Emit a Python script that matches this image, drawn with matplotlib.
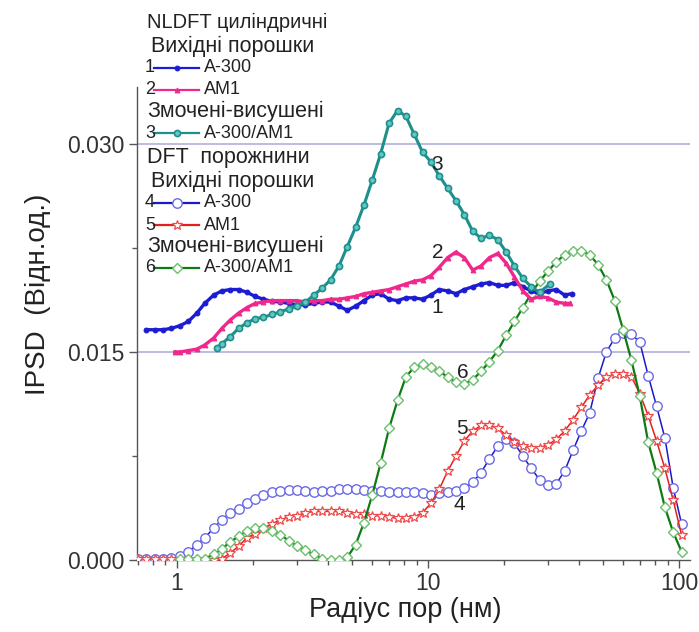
import matplotlib
matplotlib.use("Agg")
import matplotlib.pyplot as plt
from matplotlib.lines import Line2D
from matplotlib.ticker import LogLocator, FixedLocator, NullFormatter, FuncFormatter

plt.rcParams['font.family'] = ['Liberation Sans', 'DejaVu Sans']

# ---- NLDFT (cylindrical pores) ----
r_nldft_a300 = [0.755, 0.815, 0.88, 0.95, 1.03, 1.11, 1.20, 1.29, 1.40, 1.51, 1.63, 1.76,
                1.90, 2.05, 2.21, 2.39, 2.58, 2.79, 3.01, 3.25, 3.51, 3.79, 4.09, 4.42,
                4.77, 5.15, 5.56, 6.00, 6.48, 7.00, 7.56, 8.16, 8.81, 9.51, 10.27, 11.09,
                11.97, 12.93, 13.96, 15.07, 16.27, 17.57, 18.97, 20.48, 22.11, 23.87,
                25.77, 27.82, 30.04, 32.43, 35.01, 37.3]
psd_nldft_a300 = [0.0166, 0.0166, 0.0166, 0.0167, 0.0169, 0.0172, 0.0178, 0.0185, 0.0191,
                  0.0194, 0.0195, 0.0195, 0.0193, 0.0190, 0.0188, 0.01865, 0.0186, 0.0185,
                  0.0184, 0.0184, 0.0185, 0.0186, 0.0186, 0.0183, 0.0180, 0.0183, 0.0187,
                  0.0191, 0.0192, 0.0188, 0.0187, 0.0189, 0.0189, 0.0188, 0.0191, 0.0195,
                  0.0194, 0.0192, 0.0195, 0.0197, 0.0199, 0.0200, 0.0198, 0.0198, 0.0200,
                  0.0197, 0.0194, 0.0192, 0.0194, 0.0195, 0.0191, 0.0192]

r_nldft_am1 = [0.98, 1.03, 1.11, 1.20, 1.29, 1.40, 1.51, 1.63, 1.76, 1.90, 2.05, 2.21,
               2.39, 2.58, 2.79, 3.01, 3.25, 3.51, 3.79, 4.09, 4.42, 4.77, 5.15, 5.56,
               6.00, 6.48, 7.00, 7.56, 8.16, 8.81, 9.51, 10.27, 11.09, 11.97, 12.93, 13.96,
               15.07, 16.27, 17.57, 18.97, 20.48, 22.11, 23.87, 25.77, 27.82, 30.04, 32.43,
               35.01, 36.8]
psd_nldft_am1 = [0.0150, 0.0150, 0.0151, 0.0152, 0.0155, 0.0160, 0.0167, 0.0173, 0.0178,
                 0.0182, 0.0185, 0.0186, 0.0187, 0.0187, 0.0187, 0.0187, 0.0186, 0.0187,
                 0.0187, 0.0188, 0.0188, 0.0189, 0.0190, 0.0192, 0.0193, 0.0194, 0.0195,
                 0.0197, 0.0199, 0.0201, 0.0202, 0.0205, 0.0211, 0.0218, 0.0222, 0.0218,
                 0.0209, 0.0212, 0.0218, 0.0221, 0.0214, 0.0204, 0.0194, 0.0188, 0.0190,
                 0.0189, 0.0186, 0.0185, 0.0185]

r_nldft_mix = [1.44, 1.51, 1.63, 1.76, 1.90, 2.05, 2.21, 2.39, 2.58, 2.79, 3.01, 3.25,
               3.51, 3.79, 4.09, 4.42, 4.77, 5.15, 5.56, 6.00, 6.48, 7.00, 7.56, 8.16,
               8.81, 9.51, 10.27, 11.09, 11.97, 12.93, 13.96, 15.07, 16.27, 17.57, 18.97,
               20.48, 22.11, 23.87, 25.77, 27.82, 30.6]
psd_nldft_mix = [0.0153, 0.0156, 0.0161, 0.0167, 0.0171, 0.0174, 0.0175, 0.0177, 0.0179,
                 0.0181, 0.0183, 0.0186, 0.0191, 0.0196, 0.0202, 0.0212, 0.0226, 0.0240,
                 0.0256, 0.0274, 0.0293, 0.0315, 0.0324, 0.0320, 0.0307, 0.0294, 0.0287,
                 0.0277, 0.0268, 0.0259, 0.0249, 0.0237, 0.0232, 0.0234, 0.0231, 0.0222,
                 0.0212, 0.0203, 0.0197, 0.0193, 0.0199]

# ---- DFT (voids between particles) ----
r_dft = [0.70, 0.755, 0.815, 0.88, 0.95, 1.03, 1.11, 1.20, 1.29, 1.40, 1.51, 1.63, 1.76,
         1.90, 2.05, 2.21, 2.39, 2.58, 2.79, 3.01, 3.25, 3.51, 3.79, 4.09, 4.42, 4.77,
         5.15, 5.56, 6.00, 6.48, 7.00, 7.56, 8.16, 8.81, 9.51, 10.27, 11.09, 11.97, 12.93,
         13.96, 15.07, 16.27, 17.57, 18.97, 20.48, 22.11, 23.87, 25.77, 27.82, 30.04,
         32.43, 35.01, 37.8, 40.81, 44.06, 47.57, 51.36, 55.45, 59.87, 64.64, 69.79,
         75.35, 81.35, 87.83, 94.83, 102.4]
psd_dft_a300 = [0.0001, 0.0001, 0.0001, 0.0001, 0.00015, 0.0003, 0.0006, 0.0011, 0.0016,
                0.0023, 0.0029, 0.0034, 0.0037, 0.0041, 0.0044, 0.0047, 0.0049, 0.0050,
                0.00505, 0.00505, 0.0050, 0.0049, 0.0050, 0.0050, 0.0051, 0.0051, 0.0051,
                0.00505, 0.0050, 0.0050, 0.0049, 0.0049, 0.0049, 0.0049, 0.0048, 0.0047,
                0.0048, 0.0049, 0.0050, 0.0052, 0.0056, 0.0063, 0.0073, 0.0082, 0.0087,
                0.0084, 0.0075, 0.0066, 0.0058, 0.0054, 0.0055, 0.0064, 0.0079, 0.0093,
                0.0106, 0.0131, 0.0150, 0.0160, 0.0164, 0.0163, 0.0157, 0.0133, 0.0111,
                0.0088, 0.0052, 0.0026]
psd_dft_am1 = [0.0001, 0.0001, 0.0001, 0.0001, 0.0001, 0.0001, 0.0, 0.0, 0.0, 0.0, 0.0001,
               0.0005, 0.0010, 0.0016, 0.0019, 0.0023, 0.0026, 0.0029, 0.0031, 0.0032,
               0.0034, 0.0035, 0.0035, 0.0035, 0.0035, 0.0034, 0.0033, 0.0033, 0.0032,
               0.0032, 0.0031, 0.0030, 0.0030, 0.0031, 0.0034, 0.0041, 0.0051, 0.0064,
               0.0075, 0.0086, 0.0093, 0.0097, 0.0097, 0.0095, 0.0090, 0.0085, 0.0082,
               0.0081, 0.0081, 0.0083, 0.0087, 0.0093, 0.0101, 0.0110, 0.0119, 0.0126,
               0.0132, 0.0134, 0.0134, 0.0132, 0.0120, 0.0104, 0.0086, 0.0066, 0.0043,
               0.0018]
r_dft_mix = r_dft[5:]
psd_dft_mix = [0.0001, 0.0001, 0.0001, 0.0001, 0.0004, 0.0008, 0.0013, 0.0017, 0.0021,
               0.0023, 0.0023, 0.0021, 0.0018, 0.0014, 0.0010, 0.0007, 0.0004, 0.0001,
               0.0, 0.0, 0.0002, 0.0011, 0.0027, 0.0047, 0.0070, 0.0095, 0.0115, 0.0132,
               0.0139, 0.0141, 0.0139, 0.0136, 0.0132, 0.0128, 0.0127, 0.0130, 0.0136,
               0.0143, 0.0151, 0.0162, 0.0172, 0.0182, 0.0192, 0.0201, 0.0208, 0.0215,
               0.0220, 0.0223, 0.0223, 0.0220, 0.0213, 0.0202, 0.0187, 0.0166, 0.0144,
               0.0118, 0.0085, 0.0063, 0.0038, 0.0020, 0.0006]

y_ticks = [0.000, 0.015, 0.030]
x_ticks = [1, 10, 100]

W, H = 699, 632
fig = plt.figure(figsize=(W / 100, H / 100), dpi=100)
ax = fig.add_axes([137 / W, 1 - 560 / H, (690 - 137) / W, (560 - 87) / H])

ax.set_xscale('log')
ax.set_xlim(0.693, 110.6)
ax.set_ylim(0.0, 0.0341)

grid_c = '#a9a9dc'
for yt in y_ticks[1:]:
    ax.axhline(yt, color=grid_c, lw=1.1, zorder=0)

c1, c2, c3 = '#1c1cd2', '#f0288c', '#1f8f8c'
c4l, c4m = '#1a1ac8', '#6a6ae6'
c5l, c5m = '#e3201e', '#f04a4a'
c6l, c6m = '#0d7a12', '#6cbf6c'

styles = {
    'a300': dict(color=c1, lw=2.4, marker='o', ms=3.4, mfc=c1, mec=c1, mew=0.8),
    'am1': dict(color=c2, lw=2.4, marker='^', ms=3.4, mfc=c2, mec=c2, mew=0.8),
    'mix': dict(color=c3, lw=2.2, marker='o', ms=4.4, mfc='#5fc8c4', mec=c3, mew=1.2),
    'dft_a300': dict(color=c4l, lw=1.1, marker='o', ms=6.8, mfc='white', mec=c4m, mew=1.0),
    'dft_am1': dict(color=c5l, lw=1.1, marker='*', ms=7.5, mfc='white', mec=c5m, mew=0.9),
    'dft_mix': dict(color=c6l, lw=1.6, marker='D', ms=5.5, mfc='white', mec=c6m, mew=1.0),
}

ax.plot(r_dft, psd_dft_a300, zorder=3, **styles['dft_a300'])
ax.plot(r_dft, psd_dft_am1, zorder=3, **styles['dft_am1'])
ax.plot(r_dft_mix, psd_dft_mix, zorder=3, **styles['dft_mix'])
ax.plot(r_nldft_a300, psd_nldft_a300, zorder=4, **styles['a300'])
ax.plot(r_nldft_am1, psd_nldft_am1, zorder=4, **styles['am1'])
ax.plot(r_nldft_mix, psd_nldft_mix, zorder=5, **styles['mix'])

# curve numbers
num_fs = 15
for label, (xr, yv) in {'1': (10.9, 0.0182), '2': (10.9, 0.0222), '3': (10.9, 0.0285),
                        '4': (13.3, 0.0040), '5': (13.7, 0.0095), '6': (13.7, 0.01355)}.items():
    ax.text(xr, yv, label, fontsize=num_fs, ha='center', va='center', color='#222222', zorder=6)

# axes styling
for s in ('top', 'right'):
    ax.spines[s].set_visible(False)
for s in ('left', 'bottom'):
    ax.spines[s].set_color('#555555')
    ax.spines[s].set_linewidth(1.0)

ax.xaxis.set_major_locator(FixedLocator(x_ticks))
ax.xaxis.set_minor_locator(LogLocator(base=10, subs=range(2, 10)))
ax.xaxis.set_minor_formatter(NullFormatter())
ax.xaxis.set_major_formatter(FuncFormatter(lambda v, p: f'{v:g}'))
ax.yaxis.set_major_locator(FixedLocator(y_ticks))
ax.yaxis.set_minor_locator(FixedLocator([0.0075, 0.0225]))
ax.yaxis.set_major_formatter(FuncFormatter(lambda v, p: f'{v:.3f}'))
ax.tick_params(which='major', direction='out', length=6, width=1, color='#555555',
               labelsize=16.5, labelcolor='#333333', pad=3)
ax.tick_params(which='minor', direction='out', length=3.5, width=1, color='#555555')

ax.set_xlabel('Радіус пор (нм)', fontsize=19.5, color='#222222')
ax.set_ylabel('IPSD  (Відн.од.)', fontsize=20, color='#222222')
ax.xaxis.set_label_coords(0.485, -0.078)
ax.yaxis.set_label_coords(-0.156, 0.562)

# legend block
def fx(px):
    return px / W

def fy(py):
    return 1 - py / H

head = [('NLDFT циліндричні', 147, 22, 14.5), ('Вихідні порошки', 151, 46, 15.5),
        ('Змочені-висушені', 147, 111, 15.5), ('DFT  порожнини', 147, 157, 15.5),
        ('Вихідні порошки', 151, 181, 15.5), ('Змочені-висушені', 147, 246, 15.5)]
for txt, px, py, fs in head:
    fig.text(fx(px), fy(py), txt, fontsize=fs, va='center', ha='left', color='#222222')

leg_fs = 13
entries = [('1', 'A-300', 'a300', 68), ('2', 'AM1', 'am1', 90), ('3', 'A-300/AM1', 'mix', 133),
           ('4', 'A-300', 'dft_a300', 203), ('5', 'AM1', 'dft_am1', 225),
           ('6', 'A-300/AM1', 'dft_mix', 268)]
for num, name, key, py in entries:
    fig.text(fx(145), fy(py), num, fontsize=leg_fs, va='center', ha='left', color='#222222')
    st = styles[key]
    fig.add_artist(Line2D([fx(154), fx(199)], [fy(py), fy(py)], color=st['color'], lw=1.6))
    fig.add_artist(Line2D([fx(177)], [fy(py)], linestyle='none', marker=st['marker'],
                          ms=st['ms'], mfc=st['mfc'], mec=st['mec'], mew=st['mew']))
    fig.text(fx(204), fy(py), name, fontsize=leg_fs, va='center', ha='left', color='#222222')

fig.savefig('out.png', dpi=100)
